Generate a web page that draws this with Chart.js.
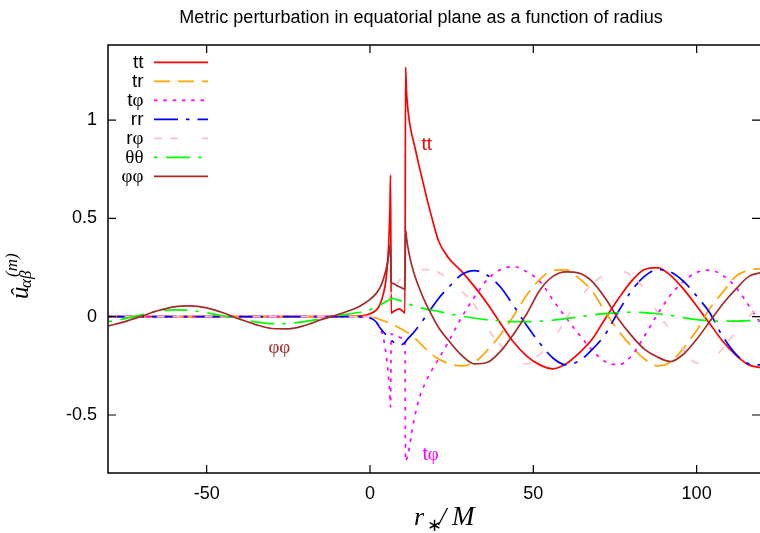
<!DOCTYPE html>
<html><head><meta charset="utf-8">
<script src="https://cdn.jsdelivr.net/npm/chart.js@4.4.0/dist/chart.umd.min.js"></script>
<style>html,body{margin:0;padding:0;background:#fff;overflow:hidden}canvas{display:block}</style>
</head><body>
<canvas id="c" width="760" height="533"></canvas>
<script>
// ---- data ----
const xs = [
 -80,-75,-70,-65,-60,-55,-50,-45,-40,-35,-30,-25,-20,-15,-10,-6,
 -4,-2,0,2,3,4,5,5.7,6.1,6.3,6.5,7,8,9,10,10.7,10.9,11.2,11.7,12.5,13.5,15,17,19,21,
 24,28,32,36,40,44,48,52,56,60,64,68,72,76,80,84,88,92,96,100,104,108,112,116,120
];
const tt = [
 0,0,0,0,0,0,0,0,0,0,0,0,0,0,0.001,0.002,
 0.003,0.006,0.015,0.035,0.06,0.11,0.2,0.36,0.55,0.72,0.018,0.024,0.034,0.04,0.028,0.018,1.27,1.14,1.04,0.95,0.88,0.77,0.63,0.5,0.385,
 0.3,0.232,0.153,0.065,-0.035,-0.13,-0.2,-0.245,-0.265,-0.24,-0.185,-0.115,-0.01,0.09,0.18,0.24,0.25,0.21,0.14,0.055,-0.035,-0.125,-0.195,-0.245,-0.26
];
const tr = [
 0,0,0,0,0,0,0,0,0,0,0,0,0,0,0,0,
 0,0,-0.002,-0.008,-0.014,-0.02,-0.026,-0.03,-0.033,-0.034,-0.035,-0.04,-0.048,-0.057,-0.066,-0.073,-0.075,-0.078,-0.083,-0.092,-0.105,-0.13,-0.163,-0.193,-0.215,
 -0.238,-0.25,-0.232,-0.17,-0.09,0.005,0.11,0.19,0.235,0.238,0.195,0.13,0.025,-0.07,-0.15,-0.215,-0.25,-0.23,-0.16,-0.07,0.04,0.125,0.205,0.237,0.245
];
const tphi = [
 0,0,0,0,0,0,0,0,0,0,0,0,0,0,0,0,
 0,-0.002,-0.006,-0.03,-0.06,-0.1,-0.2,-0.31,-0.4,-0.46,-0.088,-0.09,-0.097,-0.104,-0.11,-0.115,-0.735,-0.725,-0.695,-0.62,-0.525,-0.42,-0.335,-0.27,-0.215,
 -0.128,-0.005,0.1,0.19,0.24,0.255,0.228,0.18,0.085,-0.005,-0.09,-0.17,-0.228,-0.245,-0.2,-0.1,0.012,0.11,0.18,0.225,0.237,0.21,0.15,0.055,-0.045
];
const rr = [
 0,0,0,0,0,0,0,0,0,0,0,0,0,0,0,0,
 0,-0.001,-0.005,-0.028,-0.055,-0.075,-0.093,-0.104,-0.111,-0.115,-0.119,-0.127,-0.137,-0.143,-0.14,-0.131,-0.127,-0.12,-0.11,-0.096,-0.078,-0.045,0.0,0.047,0.093,
 0.148,0.213,0.234,0.21,0.15,0.055,-0.045,-0.135,-0.21,-0.245,-0.225,-0.167,-0.09,0.025,0.13,0.205,0.24,0.228,0.18,0.105,0.02,-0.1,-0.19,-0.24,-0.245
];
const rphi = [
 0,0,0,0,0,0,0,0,0,0,0,0,0,0,0,0,
 0,0,0.002,0.01,0.02,0.035,0.065,0.09,0.105,0.115,0.125,0.145,0.165,0.185,0.205,0.215,0.218,0.222,0.227,0.233,0.237,0.24,0.24,0.235,0.225,
 0.19,0.13,0.06,-0.06,-0.145,-0.215,-0.24,-0.19,-0.12,-0.01,0.09,0.165,0.215,0.235,0.21,0.14,0.02,-0.07,-0.17,-0.235,-0.23,-0.16,-0.075,0.0,0.07
];
const thth = [
 -0.025,-0.01,0.01,0.028,0.035,0.032,0.02,0.005,-0.012,-0.026,-0.035,-0.035,-0.025,-0.01,0.005,0.015,
 0.02,0.025,0.035,0.05,0.058,0.068,0.078,0.083,0.087,0.089,0.09,0.093,0.088,0.083,0.078,0.074,0.073,0.07,0.066,0.06,0.054,0.047,0.04,0.033,0.027,
 0.015,0.003,-0.008,-0.016,-0.021,-0.025,-0.025,-0.023,-0.018,-0.01,-0.001,0.009,0.016,0.021,0.023,0.021,0.015,0.007,-0.005,-0.015,-0.021,-0.023,-0.022,-0.02,-0.016
];
const phph = [
 -0.047,-0.025,0.002,0.03,0.05,0.055,0.045,0.02,-0.012,-0.04,-0.06,-0.062,-0.045,-0.015,0.01,0.033,
 0.045,0.065,0.088,0.12,0.145,0.185,0.245,0.305,0.355,0.37,0.175,0.17,0.16,0.152,0.145,0.139,0.44,0.40,0.345,0.28,0.22,0.15,0.07,0.005,-0.055,
 -0.12,-0.195,-0.24,-0.232,-0.175,-0.088,0.015,0.135,0.205,0.228,0.222,0.18,0.095,-0.01,-0.095,-0.165,-0.205,-0.228,-0.19,-0.115,-0.025,0.065,0.14,0.205,0.225
];
const seriesNames = ['tt','tr','tφ','rr','rφ','θθ','φφ'];
const seriesValues = [tt, tr, tphi, rr, rphi, thth, phph];
const xTicks = [-50, 0, 50, 100];
const xTickLabels = ['-50', '0', '50', '100'];
const yTicks = [-0.5, 0, 0.5, 1];
const yTickLabels = ['-0.5', '0', '0.5', '1'];
const titleText = 'Metric perturbation in equatorial plane as a function of radius';
const curveLabels = ['tt', 'tφ', 'φφ'];

// ---- styles ----
const colors = ['#ff0000', '#ffa500', '#ff00ff', '#0000ff', '#ffc0cb', '#00ff00', '#a52a2a'];
const dashes = [[], [16, 8], [3.5, 5.8], [24, 8, 3.5, 8], [8, 8, 8, 24], [3.5, 8.5, 24, 8], []];
const labelPlaces = [{x: 15.8, y: 0.848, c: 0}, {x: 16.1, y: -0.729, c: 2}, {x: -31.1, y: -0.185, c: 6}];

const SANS = '"Liberation Sans", Arial, sans-serif';
const SERIF = '"Liberation Serif", "Times New Roman", serif';
function runs(text) {
  const out = [];
  for (const ch of text) {
    const g = /[\u0370-\u03FF]/.test(ch);
    if (out.length && out[out.length - 1].g === g) out[out.length - 1].t += ch;
    else out.push({t: ch, g});
  }
  return out;
}
function drawMixed(ctx, text, x, y, align, size, color) {
  const rs = runs(text);
  let total = 0;
  rs.forEach(r => { ctx.font = size + 'px ' + (r.g ? SERIF : SANS); r.w = ctx.measureText(r.t).width; total += r.w; });
  let cx = align === 'right' ? x - total : align === 'center' ? x - total / 2 : x;
  ctx.fillStyle = color; ctx.textAlign = 'left'; ctx.textBaseline = 'alphabetic';
  rs.forEach(r => { ctx.font = size + 'px ' + (r.g ? SERIF : SANS); ctx.fillText(r.t, cx, y); cx += r.w; });
}

const decor = {
  id: 'decor',
  afterDraw(chart) {
    const ctx = chart.ctx, a = chart.chartArea;
    const xs_ = chart.scales.x, ys_ = chart.scales.y;
    ctx.save();
    // frame
    ctx.strokeStyle = '#000'; ctx.lineWidth = 1.5; ctx.setLineDash([]);
    ctx.beginPath();
    ctx.moveTo(a.right + 5, a.top); ctx.lineTo(a.left, a.top); ctx.lineTo(a.left, a.bottom); ctx.lineTo(a.right + 5, a.bottom);
    ctx.stroke();
    // inward ticks, mirrored
    ctx.lineWidth = 1.2;
    ctx.beginPath();
    xTicks.forEach(v => {
      const p = xs_.getPixelForValue(v);
      ctx.moveTo(p, a.bottom); ctx.lineTo(p, a.bottom - 8);
      ctx.moveTo(p, a.top); ctx.lineTo(p, a.top + 8);
    });
    yTicks.forEach(v => {
      const p = ys_.getPixelForValue(v);
      ctx.moveTo(a.left, p); ctx.lineTo(a.left + 8, p);
      ctx.moveTo(a.right, p); ctx.lineTo(a.right - 8, p);
    });
    ctx.stroke();
    // title
    ctx.fillStyle = '#000'; ctx.font = '18px ' + SANS; ctx.textAlign = 'center'; ctx.textBaseline = 'alphabetic';
    ctx.fillText(titleText, 421, 23);
    // x axis title r_*/M
    ctx.textAlign = 'left';
    ctx.font = 'italic 26px ' + SERIF; ctx.fillText('r', 414, 525);
    ctx.font = '18px ' + SERIF; ctx.fillText('∗', 426.5, 531);
    ctx.font = 'italic 26px ' + SERIF; ctx.fillText('/', 439, 525);
    ctx.font = 'italic 27px ' + SERIF; ctx.fillText('M', 452, 525);
    // y axis title
    ctx.save();
    ctx.translate(28, 299); ctx.rotate(-Math.PI / 2);
    ctx.font = 'italic 25px ' + SERIF; ctx.fillText('û', 0, 0);
    ctx.font = 'italic 17px ' + SERIF; ctx.fillText('αβ', 11, 3);
    ctx.font = 'italic 17px ' + SERIF; ctx.fillText('(m)', 22, -11);
    ctx.restore();
    // legend
    seriesNames.forEach((name, i) => {
      const y = 62.3 + 19 * i;
      drawMixed(ctx, name, 143.5, y + 6, 'right', 19, '#000');
      ctx.strokeStyle = colors[i]; ctx.lineWidth = 1.7; ctx.setLineDash(dashes[i]);
      ctx.beginPath(); ctx.moveTo(154, y); ctx.lineTo(208, y); ctx.stroke();
    });
    ctx.setLineDash([]);
    // curve labels
    labelPlaces.forEach((p, k) => {
      drawMixed(ctx, curveLabels[k], xs_.getPixelForValue(p.x), ys_.getPixelForValue(p.y), 'left', 19, colors[p.c]);
    });
    ctx.restore();
  }
};

const datasets = seriesNames.map((name, i) => ({
  label: name,
  data: xs.map((x, j) => ({x: x, y: seriesValues[i][j]})),
  borderColor: colors[i],
  borderWidth: 1.7,
  borderDash: dashes[i],
  pointRadius: 0,
  fill: false,
  cubicInterpolationMode: 'monotone',
  order: seriesNames.length - i
}));

new Chart(document.getElementById('c').getContext('2d'), {
  type: 'line',
  data: {datasets},
  options: {
    responsive: false, animation: false, devicePixelRatio: 1,
    layout: {padding: {top: 45, right: 0, left: 0, bottom: 0}},
    plugins: {legend: {display: false}, tooltip: {enabled: false}, title: {display: false}},
    scales: {
      x: {
        type: 'linear', min: -80.2, max: 119.4,
        afterFit(s) { s.height = 60; },
        afterBuildTicks(s) { s.ticks = xTicks.map(v => ({value: v})); },
        grid: {display: false, drawTicks: false}, border: {display: false},
        ticks: {font: {family: SANS, size: 18}, color: '#000', padding: 10, maxRotation: 0, autoSkip: false,
          callback: v => xTickLabels[xTicks.indexOf(v)]}
      },
      y: {
        type: 'linear', min: -0.795, max: 1.382,
        afterFit(s) { s.width = 108; },
        afterBuildTicks(s) { s.ticks = yTicks.map(v => ({value: v})); },
        grid: {display: false, drawTicks: false}, border: {display: false},
        ticks: {font: {family: SANS, size: 18}, color: '#000', padding: 11, autoSkip: false,
          callback: v => yTickLabels[yTicks.indexOf(v)]}
      }
    }
  },
  plugins: [decor]
});
</script>
</body></html>
